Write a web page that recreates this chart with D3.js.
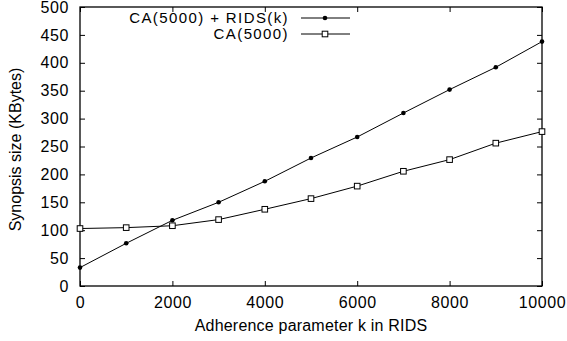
<!DOCTYPE html>
<html>
<head>
<meta charset="utf-8">
<script src="https://cdn.jsdelivr.net/npm/d3@7"></script>
<style>
  body { margin: 0; background: #fff; }
  text { font-family: "Liberation Sans", Arial, sans-serif; fill: #000; }
</style>
</head>
<body>
<div id="chart"></div>
<script>
// data
const kValues = [0, 1000, 2000, 3000, 4000, 5000, 6000, 7000, 8000, 9000, 10000];
const caRids = [33, 76.5, 117.7, 150, 187.6, 229.4, 267, 310, 352, 392, 438];
const caOnly = [103, 104.6, 108, 119, 137.5, 156.6, 179, 205.6, 226.5, 256, 276.7];
const xTicks = [0, 2000, 4000, 6000, 8000, 10000];
const yTicks = [0, 50, 100, 150, 200, 250, 300, 350, 400, 450, 500];
const seriesNames = ['CA(5000) + RIDS(k)', 'CA(5000)'];

const config = {
  width: 567, height: 341,
  margin: { top: 7, right: 25, bottom: 55, left: 80 },
  tick: 5,
  fontSize: 16,
  legendFontSize: 15,
};

const svg = d3.select('#chart').append('svg')
  .attr('width', config.width)
  .attr('height', config.height);

const innerW = config.width - config.margin.left - config.margin.right;
const innerH = config.height - config.margin.top - config.margin.bottom;

const x = d3.scaleLinear().domain([0, 10000]).range([0, innerW]);
const y = d3.scaleLinear().domain([0, 500]).range([innerH, 0]);

const g = svg.append('g')
  .attr('transform', `translate(${config.margin.left},${config.margin.top})`);

/* axes: labels on left/bottom, ticks inward and mirrored on top/right */
const styleAxis = (sel) => {
  sel.select('.domain').remove();
  sel.selectAll('.tick line').attr('stroke', '#000');
  sel.selectAll('.tick text')
    .attr('font-size', config.fontSize)
    .attr('letter-spacing', 0.6)
    .style('font-family', '"Liberation Sans", Arial, sans-serif');
};

g.append('g')
  .attr('transform', `translate(0,${innerH})`)
  .call(d3.axisBottom(x).tickValues(xTicks).tickFormat(d3.format('d'))
    .tickSizeInner(-config.tick).tickPadding(11))
  .call(styleAxis);

g.append('g')
  .call(d3.axisLeft(y).tickValues(yTicks).tickSizeInner(-config.tick).tickPadding(11))
  .call(styleAxis);

g.append('g')
  .call(d3.axisTop(x).tickValues(xTicks).tickFormat('').tickSizeInner(-config.tick))
  .call(styleAxis);

g.append('g')
  .attr('transform', `translate(${innerW},0)`)
  .call(d3.axisRight(y).tickValues(yTicks).tickFormat('').tickSizeInner(-config.tick))
  .call(styleAxis);

// frame
g.append('rect')
  .attr('width', innerW).attr('height', innerH)
  .attr('fill', 'none').attr('stroke', '#000').attr('stroke-width', 1.3);

/* axis titles */
svg.append('text')
  .attr('x', config.margin.left + innerW / 2)
  .attr('y', 331)
  .attr('text-anchor', 'middle')
  .attr('font-size', config.fontSize)
  .attr('letter-spacing', 0.2)
  .text('Adherence parameter k in RIDS');

svg.append('text')
  .attr('transform', `translate(21,${config.margin.top + innerH / 2 + 3}) rotate(-90)`)
  .attr('text-anchor', 'middle')
  .attr('font-size', config.fontSize)
  .text('Synopsis size (KBytes)');

/* lines */
const line = d3.line().x((d) => x(d[0])).y((d) => y(d[1]));
const s1 = kValues.map((k, i) => [k, caRids[i]]);
const s2 = kValues.map((k, i) => [k, caOnly[i]]);

g.append('path').datum(s1).attr('d', line)
  .attr('fill', 'none').attr('stroke', '#000').attr('stroke-width', 1);
g.append('path').datum(s2).attr('d', line)
  .attr('fill', 'none').attr('stroke', '#000').attr('stroke-width', 1);

g.selectAll('.dot').data(s1).join('circle')
  .attr('class', 'dot')
  .attr('cx', (d) => x(d[0])).attr('cy', (d) => y(d[1]))
  .attr('r', 2.3).attr('fill', '#000');

g.selectAll('.sq').data(s2).join('rect')
  .attr('class', 'sq')
  .attr('x', (d) => x(d[0]) - 2.8).attr('y', (d) => y(d[1]) - 2.8)
  .attr('width', 5.6).attr('height', 5.6)
  .attr('fill', '#fff').attr('stroke', '#000').attr('stroke-width', 1);

/* legend */
const legend = svg.append('g');
const legendRows = legend.selectAll('g').data(seriesNames).join('g')
  .attr('transform', (d, i) => `translate(289,${18 + i * 16})`);

legendRows.append('text')
  .attr('text-anchor', 'end').attr('dy', '0.35em')
  .attr('font-size', config.legendFontSize)
  .attr('letter-spacing', 1.4)
  .text((d) => d);

legendRows.append('line')
  .attr('x1', 12).attr('x2', 61)
  .attr('stroke', '#000').attr('stroke-width', 1);

legendRows.filter((d, i) => i === 0).append('circle')
  .attr('cx', 36).attr('r', 2.3).attr('fill', '#000');

legendRows.filter((d, i) => i === 1).append('rect')
  .attr('x', 33.2).attr('y', -2.8).attr('width', 5.6).attr('height', 5.6)
  .attr('fill', '#fff').attr('stroke', '#000');
</script>
</body>
</html>
